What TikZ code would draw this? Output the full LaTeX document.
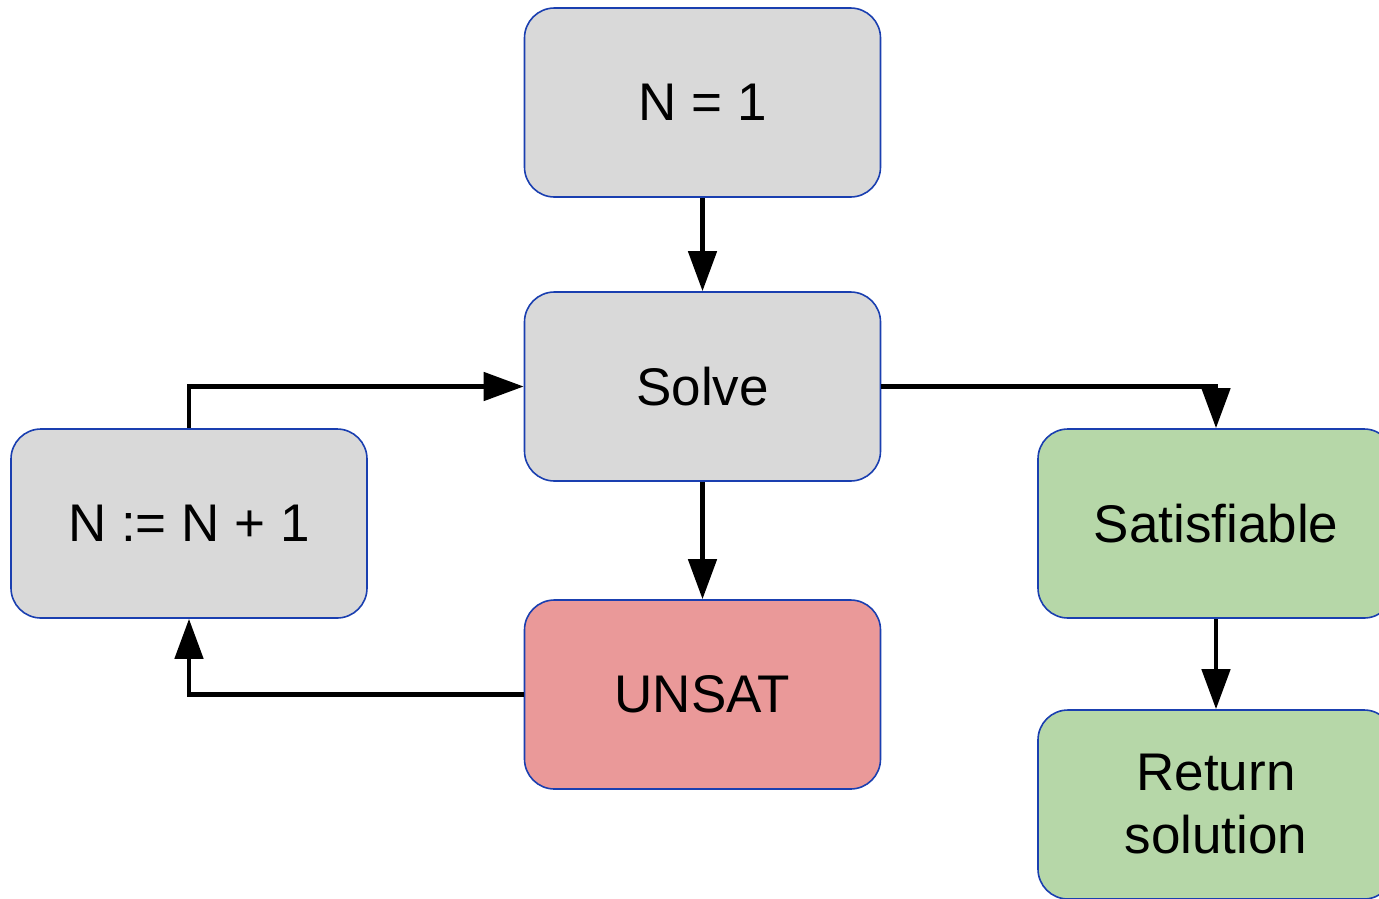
\documentclass[tikz,border=0pt]{standalone}
\usepackage{fontspec}
\setmainfont{Liberation Sans}
\usetikzlibrary{arrows.meta}
\definecolor{boxline}{HTML}{1A3FB0}
\definecolor{greybox}{HTML}{D9D9D9}
\definecolor{redbox}{HTML}{EA9999}
\definecolor{greenbox}{HTML}{B6D7A8}
\tikzset{
  stepbox/.style={draw=boxline, line width=1.6pt, rounded corners=30pt,
    minimum width=356pt, minimum height=189pt, inner sep=0pt, align=center,
    font=\fontsize{53}{63}\selectfont},
  flow/.style={line width=4.7pt, -{Triangle[width=28pt,length=40pt]}}
}
\begin{document}
\begin{tikzpicture}[x=1pt,y=-1pt]
  \useasboundingbox (0,0) rectangle (1379,898);
  \clip (0,0) rectangle (1379,898);
  % process boxes
  \node[stepbox, fill=greybox]  (init)  at (702.5,102.5) {N = 1};
  \node[stepbox, fill=greybox]  (solve) at (702.5,386.5) {Solve};
  \node[stepbox, fill=redbox]   (unsat) at (702.5,694.5) {UNSAT};
  \node[stepbox, fill=greybox]  (inc)   at (189,523.5)   {N := N + 1};
  \node[stepbox, fill=greenbox] (sat)   at (1216,523.5)  {Satisfiable};
  \node[stepbox, fill=greenbox] (ret)   at (1216,804.5)  {Return\\solution};
  % connectors
  \draw[flow] (init.south) -- (solve.north);
  \draw[flow] (solve.south) -- (unsat.north);
  \draw[flow] (unsat.west) -| (inc.south);
  \draw[flow] (inc.north) |- (solve.west);
  \draw[flow] (solve.east) -| (sat.north);
  \draw[flow] (sat.south) -- (ret.north);
\end{tikzpicture}
\end{document}
